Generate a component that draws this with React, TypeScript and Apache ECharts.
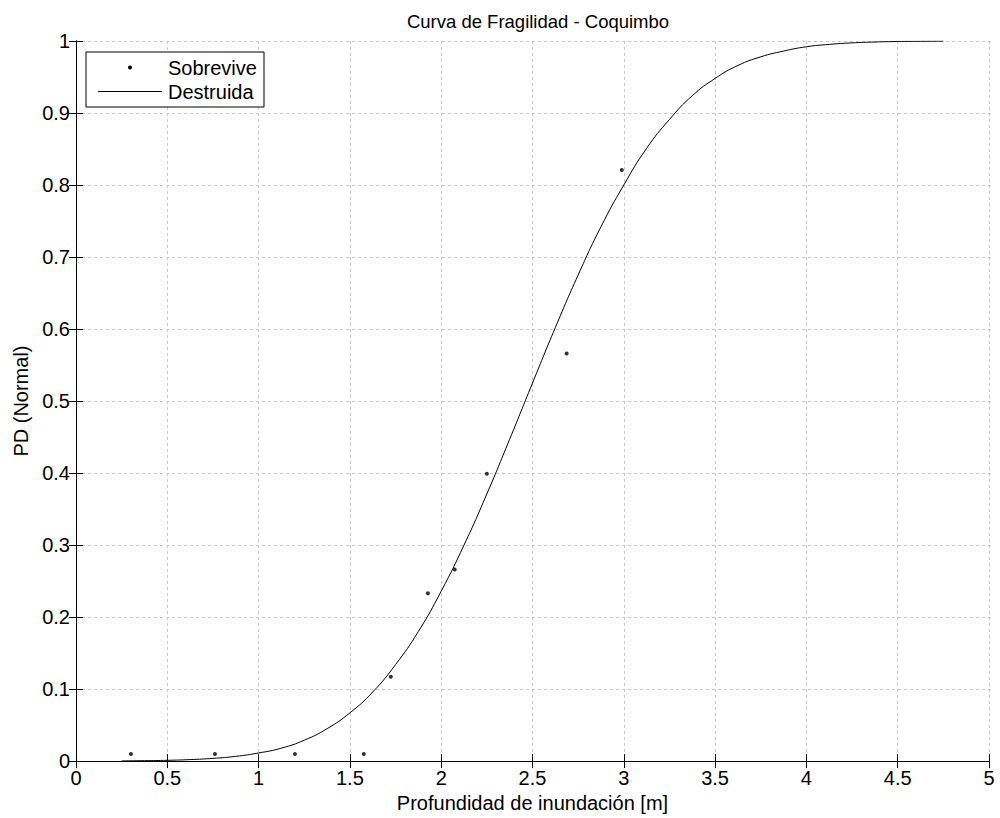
import React, { useEffect, useRef } from "react";
import * as echarts from "echarts";

// Fitted fragility curve
const curveX = [0.25, 0.375, 0.5, 0.625, 0.75, 0.875, 1.0, 1.125, 1.25, 1.375, 1.5, 1.625, 1.75, 1.875, 2.0, 2.125, 2.25, 2.375, 2.5, 2.625, 2.75, 2.875, 3.0, 3.125, 3.25, 3.375, 3.5, 3.625, 3.75, 3.875, 4.0, 4.125, 4.25, 4.375, 4.5, 4.625, 4.75];
const curveY = [0.0003, 0.0006, 0.0011, 0.0021, 0.0038, 0.0066, 0.0113, 0.018, 0.029, 0.045, 0.067, 0.096, 0.134, 0.18, 0.236, 0.3, 0.371, 0.447, 0.525, 0.602, 0.675, 0.742, 0.8, 0.851, 0.891, 0.924, 0.948, 0.966, 0.978, 0.986, 0.992, 0.9953, 0.9974, 0.9986, 0.9993, 0.9996, 0.9998];

// Observed points
const obsX = [0.301, 0.761, 1.199, 1.576, 1.724, 1.927, 2.074, 2.25, 2.687, 2.989];
const obsY = [0.01, 0.01, 0.01, 0.01, 0.117, 0.233, 0.266, 0.399, 0.566, 0.821];

const titleText = "Curva de Fragilidad - Coquimbo";
const xName = "Profundidad de inundación [m]";
const yName = "PD (Normal)";
const legendNames = ["Sobrevive", "Destruida"];

const FONT = "'Liberation Sans', Arial, sans-serif";
const FS = 20;

export default function App() {
  const ref = useRef<HTMLDivElement>(null);
  useEffect(() => {
    if (!ref.current) return;
    const chart = echarts.init(ref.current, null, { renderer: "svg" });
    const gridLeft = 76, gridTop = 41, gridRight = 11, gridBottom = 56;
    const axisCommon = {
      axisLine: { show: true, lineStyle: { color: "#000", width: 1 } },
      axisTick: { show: true, inside: true, length: 7, lineStyle: { color: "#000" } },
    };
    chart.setOption({
      animation: false,
      backgroundColor: "#fff",
      textStyle: { fontFamily: FONT },
      title: {
        text: titleText,
        left: 533,
        top: 7,
        textAlign: "center",
        textStyle: { fontFamily: FONT, fontSize: 18.5, fontWeight: "normal", color: "#000" },
      },
      grid: { left: gridLeft, top: gridTop, right: gridRight, bottom: gridBottom, containLabel: false },
      xAxis: [
        {
          type: "value", min: 0, max: 5, interval: 0.5,
          name: xName, nameLocation: "middle", nameGap: 28,
          nameTextStyle: { fontFamily: FONT, fontSize: FS, color: "#000" },
          ...axisCommon,
          axisLabel: { color: "#000", fontSize: FS, fontFamily: FONT, margin: 7 },
          splitLine: { show: true, lineStyle: { color: "#c8c8c8", type: [3, 3], width: 1 } },
        },
        {
          type: "value", min: 0, max: 5, interval: 0.5, position: "top",
          ...axisCommon,
          axisLabel: { show: false },
          splitLine: { show: false },
        },
      ],
      yAxis: [
        {
          type: "value", min: 0, max: 1, interval: 0.1,
          name: yName, nameLocation: "middle", nameGap: 44,
          nameTextStyle: { fontFamily: FONT, fontSize: FS, color: "#000" },
          ...axisCommon,
          axisLabel: { color: "#000", fontSize: FS, fontFamily: FONT, margin: 6 },
          splitLine: { show: true, lineStyle: { color: "#c8c8c8", type: [3, 3], width: 1 } },
        },
        {
          type: "value", min: 0, max: 1, interval: 0.1, position: "right",
          ...axisCommon,
          axisLabel: { show: false },
          splitLine: { show: false },
        },
      ],
      series: [
        {
          name: legendNames[1],
          type: "line",
          data: curveX.map((x, i) => [x, curveY[i]]),
          smooth: true,
          showSymbol: false,
          symbol: "none",
          lineStyle: { color: "#000", width: 1 },
          z: 3,
        },
        {
          name: legendNames[0],
          type: "scatter",
          data: obsX.map((x, i) => [x, obsY[i]]),
          symbol: "circle",
          symbolSize: 4,
          itemStyle: { color: "#000" },
          z: 4,
        },
      ],
      graphic: [
        {
          type: "rect",
          shape: { x: 86, y: 52, width: 178, height: 55 },
          style: { fill: "#fff", stroke: "#000", lineWidth: 1 },
          z: 10,
        },
        {
          type: "circle",
          shape: { cx: 130, cy: 67.5, r: 2 },
          style: { fill: "#000" },
          z: 11,
        },
        {
          type: "line",
          shape: { x1: 98, y1: 91.5, x2: 162, y2: 91.5 },
          style: { stroke: "#000", lineWidth: 1 },
          z: 11,
        },
        {
          type: "text",
          x: 168, y: 67.5,
          style: { text: legendNames[0], fontFamily: FONT, fontSize: FS, fill: "#000", verticalAlign: "middle" },
          z: 11,
        },
        {
          type: "text",
          x: 168, y: 91.5,
          style: { text: legendNames[1], fontFamily: FONT, fontSize: FS, fill: "#000", verticalAlign: "middle" },
          z: 11,
        },
      ],
    });
    return () => chart.dispose();
  }, []);
  return <div ref={ref} style={{ position: "absolute", left: 0, top: 0, width: 1000, height: 818 }} />;
}
